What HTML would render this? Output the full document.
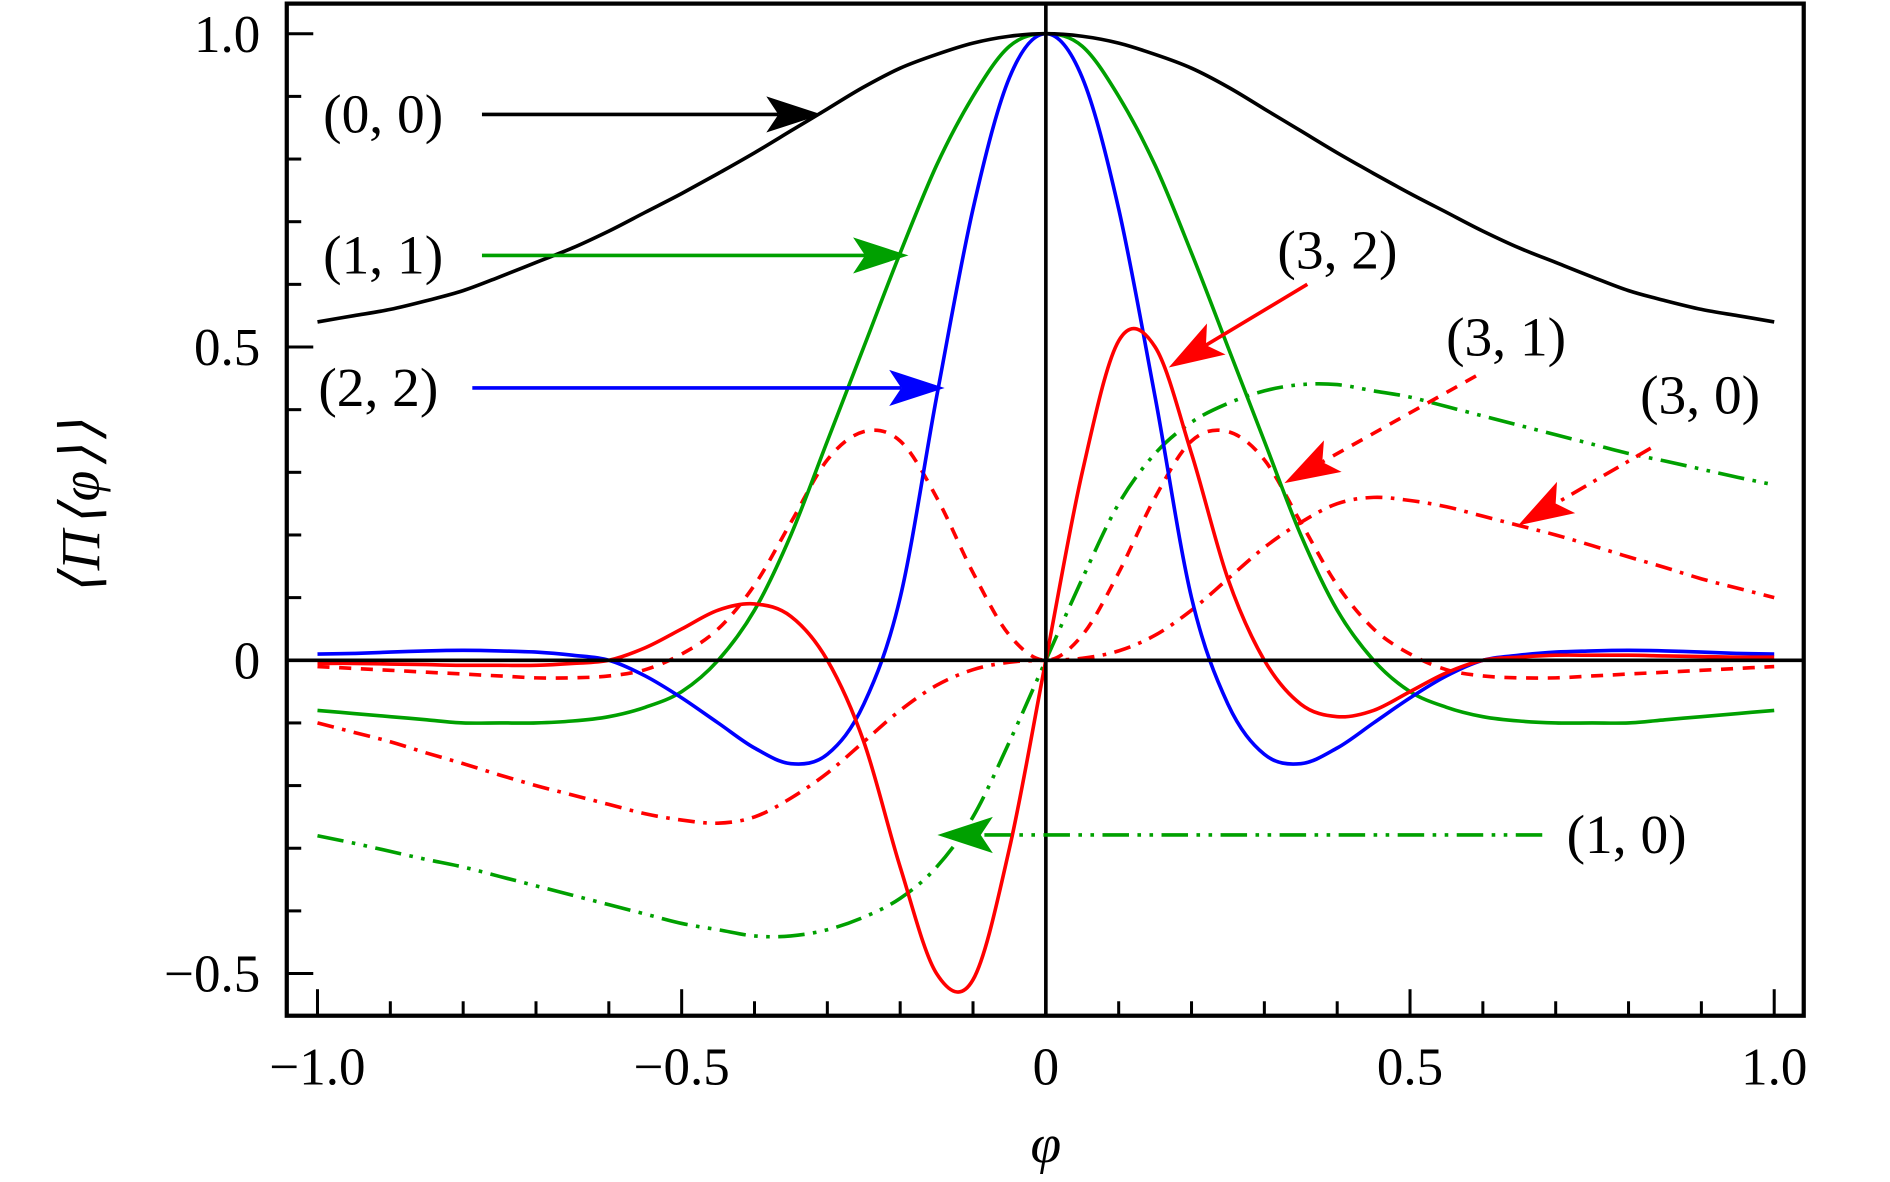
<!DOCTYPE html>
<html><head><meta charset="utf-8"><style>
html,body{margin:0;padding:0;background:#fff;}
svg{display:block;}
text{font-family:"Liberation Serif",serif;}
</style></head><body>
<svg id="chart" width="1890" height="1182" viewBox="0 0 1568.6 981" preserveAspectRatio="none" xmlns="http://www.w3.org/2000/svg">
<g id="curves"></g>
<g id="axes"></g>
<g id="annot"></g>
</svg>
<script>
const xs = [];
for (let i = 0; i <= 40; i++) xs.push(-1 + 0.05 * i);
const s00 = [.54,.55,.56,.574,.59,.612,.635,.658,.685,.715,.745,.777,.81,.845,.88,.915,.945,.967,.985,.996,1,.996,.985,.967,.945,.915,.88,.845,.81,.777,.745,.715,.685,.658,.635,.612,.59,.574,.56,.55,.54];
const s11 = [-.08,-.085,-.09,-.095,-.1,-.1,-.1,-.097,-.09,-.075,-.05,0,.08,.2,.35,.5,.65,.79,.9,.98,1,.98,.9,.79,.65,.5,.35,.2,.08,0,-.05,-.075,-.09,-.097,-.1,-.1,-.1,-.095,-.09,-.085,-.08];
const s22 = [.01,.011,.013,.015,.016,.015,.013,.008,0,-.025,-.06,-.1,-.14,-.165,-.15,-.07,.1,.42,.72,.93,1,.93,.72,.42,.1,-.07,-.15,-.165,-.14,-.1,-.06,-.025,0,.008,.013,.015,.016,.015,.013,.011,.01];
const s32 = [-.005,-.005,-.006,-.007,-.008,-.008,-.008,-.005,0,.02,.05,.08,.09,.07,0,-.13,-.33,-.5,-.51,-.3,0,.3,.51,.5,.33,.13,0,-.07,-.09,-.08,-.05,-.02,0,.005,.008,.008,.008,.007,.006,.005,.005];
const s31 = [-.01,-.013,-.016,-.019,-.022,-.025,-.028,-.028,-.025,-.015,.01,.05,.12,.22,.32,.365,.35,.26,.14,.04,0,.04,.14,.26,.35,.365,.32,.22,.12,.05,.01,-.015,-.025,-.028,-.028,-.025,-.022,-.019,-.016,-.013,-.01];
const s30 = [-.1,-.115,-.13,-.148,-.165,-.183,-.2,-.215,-.23,-.245,-.255,-.26,-.25,-.22,-.18,-.13,-.08,-.04,-.015,-.003,0,.003,.015,.04,.08,.13,.18,.22,.25,.26,.255,.245,.23,.215,.2,.183,.165,.148,.13,.115,.1];
const s10 = [-.28,-.292,-.305,-.318,-.33,-.345,-.36,-.375,-.39,-.405,-.42,-.43,-.44,-.44,-.43,-.41,-.38,-.33,-.25,-.13,0,.13,.25,.33,.38,.41,.43,.44,.44,.43,.42,.405,.39,.375,.36,.345,.33,.318,.305,.292,.28];
const xTicks = [-1, -0.5, 0, 0.5, 1];
const xTickLabels = ["\u22121.0", "\u22120.5", "0", "0.5", "1.0"];
const yTicks = [1, 0.5, 0, -0.5];
const yTickLabels = ["1.0", "0.5", "0", "\u22120.5"];

const NS = "http://www.w3.org/2000/svg";
const X = v => 868 + v * 604.5;
const Y = v => 548 - v * 520;
function mk(tag, attrs, parent) {
  const e = document.createElementNS(NS, tag);
  for (const k in attrs) e.setAttribute(k, attrs[k]);
  parent.appendChild(e);
  return e;
}
function smooth(pts) {
  let d = "M" + pts[0][0] + "," + pts[0][1];
  for (let i = 0; i < pts.length - 1; i++) {
    const p0 = pts[Math.max(0, i - 1)], p1 = pts[i], p2 = pts[i + 1], p3 = pts[Math.min(pts.length - 1, i + 2)];
    const c1 = [p1[0] + (p2[0] - p0[0]) / 6, p1[1] + (p2[1] - p0[1]) / 6];
    const c2 = [p2[0] - (p3[0] - p1[0]) / 6, p2[1] - (p3[1] - p1[1]) / 6];
    d += "C" + c1[0].toFixed(1) + "," + c1[1].toFixed(1) + " " + c2[0].toFixed(1) + "," + c2[1].toFixed(1) + " " + p2[0].toFixed(1) + "," + p2[1].toFixed(1);
  }
  return d;
}
const curves = document.getElementById("curves");
const axes = document.getElementById("axes");
const annot = document.getElementById("annot");
const series = [
  [s31, "#ff0000", "10,8", "curve-3-1"],
  [s30, "#ff0000", "14,7,3,7", "curve-3-0"],
  [s10, "#00a000", "22,7,3,7,3,7", "curve-1-0"],
  [s11, "#00a000", "", "curve-1-1"],
  [s22, "#0000ff", "", "curve-2-2"],
  [s32, "#ff0000", "", "curve-3-2"],
  [s00, "#000000", "", "curve-0-0"]
];
for (const [vals, col, dash, name] of series) {
  const pts = xs.map((x, i) => [X(x), Y(vals[i])]);
  const p = mk("path", {d: smooth(pts), fill: "none", stroke: col, "stroke-width": 3, "stroke-dasharray": dash}, curves);
  
  
}
const z1 = mk("line", {x1: 238, x2: 1497, y1: Y(0), y2: Y(0), stroke: "#000", "stroke-width": 3}, axes);


const z2 = mk("line", {x1: X(0), x2: X(0), y1: 3, y2: 843, stroke: "#000", "stroke-width": 3}, axes);


const fr = mk("rect", {x: 238, y: 3, width: 1259, height: 840, fill: "none", stroke: "#000", "stroke-width": 3.5}, axes);


for (let i = -10; i <= 10; i++) {
  const v = i / 10, maj = i % 5 === 0;
  const t = mk("line", {x1: X(v), x2: X(v), y1: 843, y2: 843 - (maj ? 22 : 12), stroke: "#000", "stroke-width": 2.5}, axes);
  
  
}
for (let i = -5; i <= 10; i++) {
  const v = i / 10, maj = i % 5 === 0;
  const t = mk("line", {x1: 238, x2: 238 + (maj ? 22 : 12), y1: Y(v), y2: Y(v), stroke: "#000", "stroke-width": 2.5}, axes);
  
  
}
xTicks.forEach((v, i) => {
  const t = mk("text", {x: X(v), y: 900, "font-size": 44, "text-anchor": "middle"}, axes);
  t.textContent = xTickLabels[i];
  
  
});
yTicks.forEach((v, i) => {
  const t = mk("text", {x: 216, y: Y(v) + 15, "font-size": 44, "text-anchor": "end"}, axes);
  t.textContent = yTickLabels[i];
  
  
});
const xt = mk("text", {x: 868, y: 965, "font-size": 46, "font-style": "italic", "text-anchor": "middle"}, axes);
xt.textContent = "\u03c6";


const yt = mk("text", {x: 0, y: 0, "font-size": 46, "font-style": "italic", "text-anchor": "middle", "letter-spacing": 3, transform: "translate(82,420) rotate(-90)"}, axes);
yt.textContent = "\u27e8\u03a0\u27e8\u03c6\u27e9\u27e9";



function arrow(x1, y1, x2, y2, col, dash, name) {
  const a = Math.atan2(y2 - y1, x2 - x1), L = 46, W = 15, n = 10;
  const bx = x2 - L * Math.cos(a), by = y2 - L * Math.sin(a);
  const nx = x2 - (L - n) * Math.cos(a), ny = y2 - (L - n) * Math.sin(a);
  const px = -Math.sin(a), py = Math.cos(a);
  const g = mk("g", {}, annot);
  
  
  mk("line", {x1, y1, x2: nx, y2: ny, stroke: col, "stroke-width": 3, "stroke-dasharray": dash}, g);
  mk("polygon", {points: `${x2},${y2} ${bx + W * px},${by + W * py} ${nx},${ny} ${bx - W * px},${by - W * py}`, fill: col}, g);
}
function label(x, y, txt, name) {
  const t = mk("text", {x, y, "font-size": 46, "text-anchor": "middle"}, annot);
  t.textContent = txt;
  
  
}
arrow(400, 95, 682, 95, "#000", "", "arrow-0-0");
arrow(400, 212, 754, 212, "#00a000", "", "arrow-1-1");
arrow(392, 322, 784, 322, "#0000ff", "", "arrow-2-2");
arrow(1085, 236, 970, 305, "#ff0000", "", "arrow-3-2");
arrow(1225, 312, 1066, 401, "#ff0000", "10,8", "arrow-3-1");
arrow(1370, 372, 1260, 436, "#ff0000", "14,7,3,7", "arrow-3-0");
arrow(1280, 693, 778, 693, "#00a000", "22,7,3,7,3,7", "arrow-1-0");
label(318, 110, "(0, 0)", "label-0-0");
label(318, 227, "(1, 1)", "label-1-1");
label(314, 337, "(2, 2)", "label-2-2");
label(1110, 223, "(3, 2)", "label-3-2");
label(1250, 295, "(3, 1)", "label-3-1");
label(1411, 343, "(3, 0)", "label-3-0");
label(1350, 708, "(1, 0)", "label-1-0");
</script>
</body></html>
